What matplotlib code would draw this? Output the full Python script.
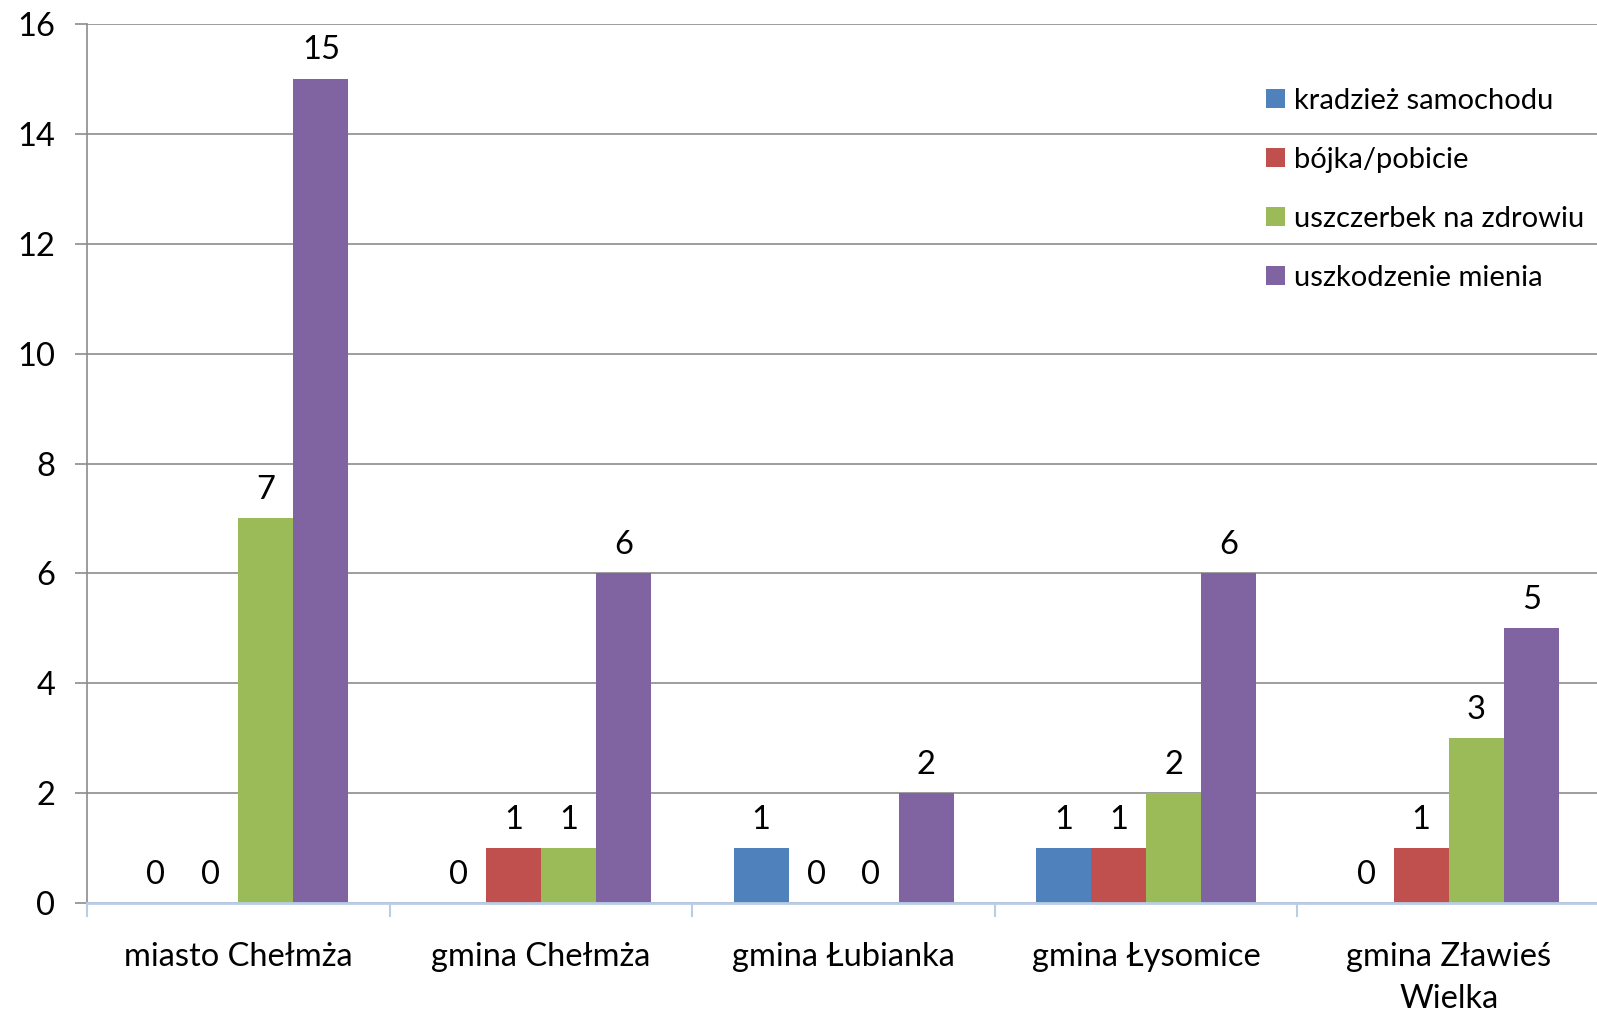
import matplotlib
matplotlib.use("Agg")
import matplotlib.pyplot as plt
import numpy as np
from matplotlib.patches import Patch

plt.rcParams['font.family'] = ['Lato', 'DejaVu Sans']

categories = ["miasto Chełmża", "gmina Chełmża", "gmina Łubianka", "gmina Łysomice", "gmina Zławieś\nWielka"]
series_names = ["kradzież samochodu", "bójka/pobicie", "uszczerbek na zdrowiu", "uszkodzenie mienia"]
kradziez = [0, 0, 1, 1, 0]
bojka = [0, 1, 0, 1, 1]
uszczerbek = [7, 1, 0, 2, 3]
uszkodzenie = [15, 6, 2, 6, 5]
yticks = [0, 2, 4, 6, 8, 10, 12, 14, 16]

colors = ["#4F81BD", "#C0504D", "#9BBB59", "#8064A2"]
series = [kradziez, bojka, uszczerbek, uszkodzenie]

W, H = 1597, 1014
fig = plt.figure(figsize=(W/100, H/100), dpi=100)
left, right, bottom, top = 87/W, 1600/W, 1 - 903/H, 1 - 24/H
ax = fig.add_axes([left, bottom, right-left, top-bottom])

x = np.arange(len(categories))
bw = 55/302.6
fs = 23.5
for i, (vals, c) in enumerate(zip(series, colors)):
    pos = x + (i - 1.5) * bw
    ax.bar(pos, vals, width=bw, color=c, zorder=3, linewidth=0)
    for p, v in zip(pos, vals):
        ax.annotate(str(v), (p, v), xytext=(0, 14), textcoords='offset points',
                    ha='center', va='baseline', fontsize=fs, color='black')

ax.set_xlim(-0.5, len(categories) - 0.5)
ax.set_ylim(0, 16)
ax.set_yticks(yticks)
ax.set_yticklabels([str(t) for t in yticks], fontsize=fs)
ax.yaxis.grid(True, color='#8c8c8c', linewidth=1.2, zorder=0)
ax.tick_params(axis='y', length=9, width=1.2, color='#8c8c8c', pad=14)

ax.set_xticks(x)
ax.set_xticklabels(categories, fontsize=fs, linespacing=1.5)
ax.tick_params(axis='x', which='major', length=0, pad=28)
ax.set_xticks(np.arange(-0.5, len(categories) + 0.5, 1), minor=True)
ax.tick_params(axis='x', which='minor', length=10, width=1.5, color='#b9cde5')

for s in ['top', 'right']:
    ax.spines[s].set_visible(False)
ax.spines['left'].set_color('#8c8c8c')
ax.spines['left'].set_linewidth(1.2)
ax.spines['bottom'].set_color('#b9cde5')
ax.spines['bottom'].set_linewidth(2)
ax.spines['bottom'].set_zorder(4)

handles = [Patch(facecolor=c, edgecolor='none') for c in colors]
fig.legend(handles, series_names, loc='upper left', bbox_to_anchor=(1266/W, 1 - 88/H),
           frameon=False, fontsize=21, handlelength=0.65, handleheight=0.65,
           handletextpad=0.3, labelspacing=1.13, borderpad=0, borderaxespad=0)

fig.savefig("out.png", dpi=100)
